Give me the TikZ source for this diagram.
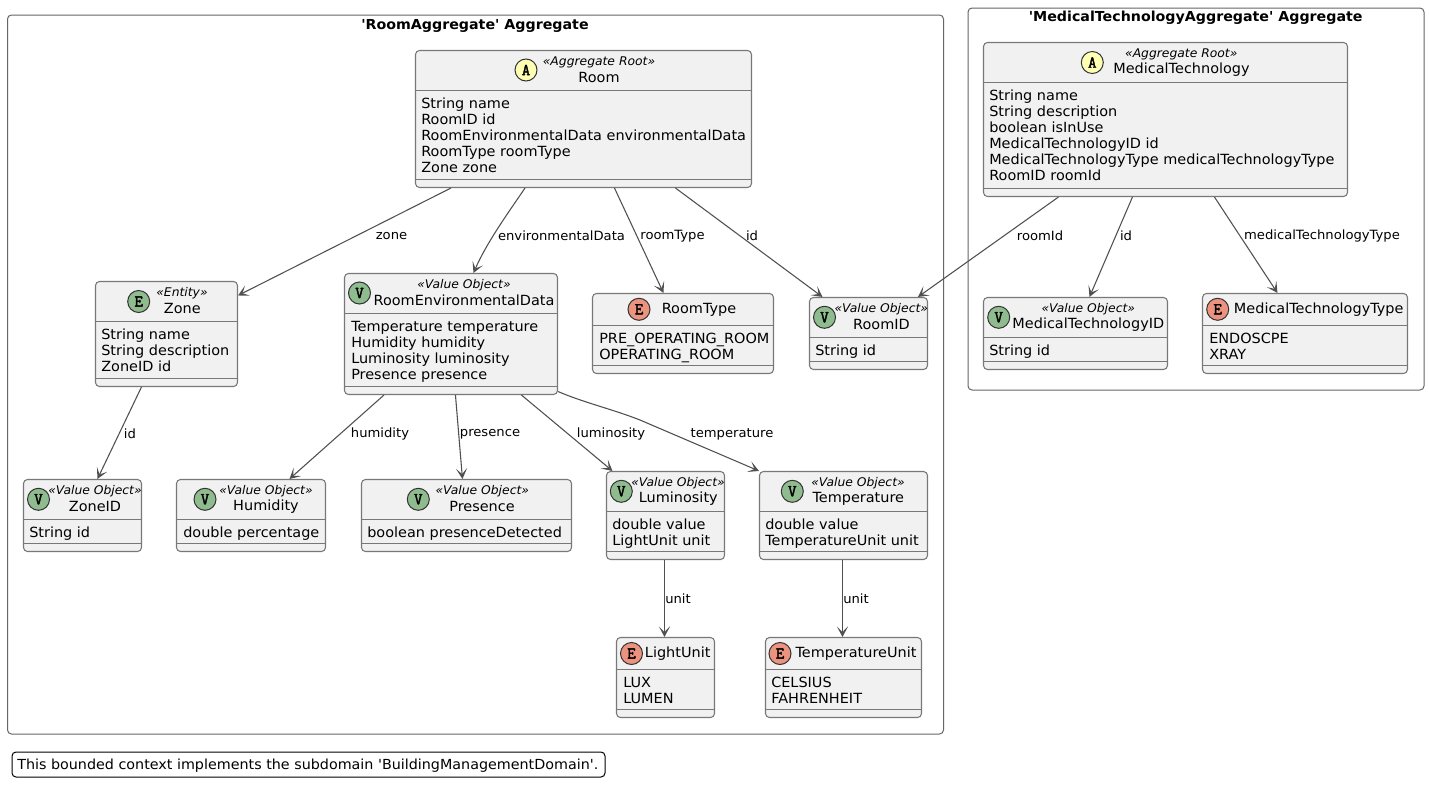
\documentclass[tikz,border=0pt]{standalone}
\usepackage{fontspec}
\setmainfont{DejaVu Sans}[Ligatures=TeXOff,FakeStretch=1.032]
\newfontfamily\letterfont{Latin Modern Mono}[FakeBold=2.2]
\usetikzlibrary{arrows.meta}
\definecolor{boxfill}{HTML}{F1F1F1}
\definecolor{edgecol}{HTML}{505050}
\definecolor{linecol}{HTML}{787878}
\definecolor{aroot}{HTML}{FEFFB3}
\definecolor{vobj}{HTML}{8FBC8F}
\definecolor{enum}{HTML}{EB937F}
\tikzset{
  frame/.style={draw=linecol!85!black,line width=.75pt,rounded corners=3pt,fill=white,inner sep=0pt},
  box/.style={draw=linecol,line width=.8pt,rounded corners=3pt,fill=boxfill,inner sep=0pt},
  divider/.style={draw=linecol,line width=.8pt},
  headcircle/.style={circle,draw=black!80,line width=.75pt,minimum size=16.5pt,inner sep=0pt,font=\letterfont\fontsize{12.5}{12}\selectfont},
  stereo/.style={inner sep=0pt,font=\itshape\fontsize{8.97}{11}\selectfont},
  cname/.style={inner sep=0pt,font=\fontsize{10.5}{12}\selectfont},
  notetext/.style={inner sep=0pt,font=\fontsize{10.4}{12}\selectfont},
  attrs/.style={inner sep=0pt,anchor=north west,align=left,font=\fontsize{10.5}{12.12}\selectfont},
  title/.style={inner sep=0pt,font=\bfseries\fontsize{10.33}{12}\selectfont},
  elabel/.style={inner sep=0pt,font=\fontsize{9.56}{12}\selectfont},
  conn/.style={draw=edgecol,line width=.8pt,-{Stealth[length=8pt,width=8.5pt,inset=4.3pt,line width=0pt]}},
}
% id, x0,y0,x1,y1, sep1, sep2
\newcommand\cls[7]{%
  \node[box,minimum width={(#4-#2)*.75pt},minimum height={(#5-#3)*.75pt}] (#1) at ({(#2+#4)/2},{(#3+#5)/2}) {};
  \draw[divider] (#2,#6) -- (#4,#6);
  \draw[divider] (#2,#7) -- (#4,#7);
}
% id, letter, colour, cx, cy
\newcommand\hd[5]{\node[headcircle,fill=#3] (#1-c) at (#4,#5) {#2};}
\newcommand\st[4]{\node[stereo] (#1-s) at (#2,#3+1) {«#4»};}
\newcommand\nm[4]{\node[cname] (#1-n) at (#2,#3) {#4};}
\newcommand\att[4]{\node[attrs] (#1-a) at (#2,#3+6) {\strut #4};}
\newcommand\pp[3]{([shift={(#2,#3)}]#1)}
\begin{document}
\begin{tikzpicture}[x=.75pt,y=-.75pt]
\useasboundingbox[fill=white] (0,0) rectangle (1429,796);

\node[frame,minimum width={936*.75pt},minimum height={719*.75pt}] (roomagg) at (475.5,374.5) {};
\node[title] (roomagg-t) at (475,26) {'RoomAggregate' Aggregate};
\node[frame,minimum width={456*.75pt},minimum height={382*.75pt}] (medagg) at (1196,199) {};
\node[title] (medagg-t) at (1195.7,18) {'MedicalTechnologyAggregate' Aggregate};

% Room
\cls{room}{415.5}{50.5}{751.5}{187.5}{90.5}{179.5}
\hd{room}{A}{aroot}{526}{70}
\st{room}{599}{61.5}{Aggregate Root}
\nm{room}{599}{77.5}{Room}
\att{room}{421}{90.5}{String name\\RoomID id\\RoomEnvironmentalData environmentalData\\RoomType roomType\\Zone zone}

% MedicalTechnology
\cls{med}{983.5}{42.5}{1347.5}{196.5}{82.5}{188.5}
\hd{med}{A}{aroot}{1092.3}{62.5}
\st{med}{1181.3}{53.5}{Aggregate Root}
\nm{med}{1181.5}{69.5}{MedicalTechnology}
\att{med}{989}{82.5}{String name\\String description\\boolean isInUse\\MedicalTechnologyID id\\MedicalTechnologyType medicalTechnologyType\\RoomID roomId}

% Zone
\cls{zone}{95.5}{281.5}{237.5}{386.5}{321.5}{378.5}
\hd{zone}{E}{vobj}{138.7}{301.5}
\st{zone}{182}{292.5}{Entity}
\nm{zone}{182.3}{308.5}{Zone}
\att{zone}{101}{321.5}{String name\\String description\\ZoneID id}

% RoomEnvironmentalData
\cls{red}{344.5}{273.5}{557.5}{394.5}{313.5}{386.5}
\hd{red}{V}{vobj}{359.5}{293}
\st{red}{464}{284.5}{Value Object}
\nm{red}{464}{300.5}{RoomEnvironmentalData}
\att{red}{351}{313.5}{Temperature temperature\\Humidity humidity\\Luminosity luminosity\\Presence presence}

% RoomType
\cls{rtype}{592.5}{293.5}{773.5}{373.5}{325.5}{365.5}
\hd{rtype}{E}{enum}{639}{309.3}
\nm{rtype}{699}{309.5}{RoomType}
\att{rtype}{599}{325.5}{PRE\_OPERATING\_ROOM\\OPERATING\_ROOM}

% RoomID
\cls{rid}{809.5}{297.5}{927.5}{369.5}{337.5}{361.5}
\hd{rid}{V}{vobj}{824.5}{317.3}
\st{rid}{881.3}{308.5}{Value Object}
\nm{rid}{881.5}{324.5}{RoomID}
\att{rid}{815}{337.5}{String id}

% MedicalTechnologyID
\cls{mid}{983.5}{297.5}{1167.5}{369.5}{337.5}{361.5}
\hd{mid}{V}{vobj}{998.7}{317.3}
\st{mid}{1088.3}{308.5}{Value Object}
\nm{mid}{1088.3}{324.5}{MedicalTechnologyID}
\att{mid}{989}{337.5}{String id}

% MedicalTechnologyType
\cls{mtype}{1202.5}{293.5}{1407.5}{373.5}{325.5}{365.5}
\hd{mtype}{E}{enum}{1217.7}{309.3}
\nm{mtype}{1318.7}{309.5}{MedicalTechnologyType}
\att{mtype}{1209}{325.5}{ENDOSCPE\\XRAY}

% ZoneID
\cls{zid}{23.5}{479.5}{141.5}{551.5}{519.5}{543.5}
\hd{zid}{V}{vobj}{38.5}{499.3}
\st{zid}{95}{490.5}{Value Object}
\nm{zid}{95}{506.5}{ZoneID}
\att{zid}{29}{519.5}{String id}

% Humidity
\cls{hum}{176.5}{479.5}{325.5}{551.5}{519.5}{543.5}
\hd{hum}{V}{vobj}{205}{499.3}
\st{hum}{266}{490.5}{Value Object}
\nm{hum}{266}{506.5}{Humidity}
\att{hum}{183}{519.5}{double percentage}

% Presence
\cls{pres}{361.5}{479.5}{571.5}{551.5}{519.5}{543.5}
\hd{pres}{V}{vobj}{418.3}{499.3}
\st{pres}{482.3}{490.5}{Value Object}
\nm{pres}{482}{506.5}{Presence}
\att{pres}{367}{519.5}{boolean presenceDetected}

% Luminosity
\cls{lum}{606.5}{471.5}{724.5}{559.5}{511.5}{551.5}
\hd{lum}{V}{vobj}{621.3}{491.3}
\st{lum}{678}{482.5}{Value Object}
\nm{lum}{678.3}{498.5}{Luminosity}
\att{lum}{612}{511.5}{double value\\LightUnit unit}

% Temperature
\cls{temp}{759.5}{471.5}{927.5}{559.5}{511.5}{551.5}
\hd{temp}{V}{vobj}{792.3}{491.3}
\st{temp}{858}{482.5}{Value Object}
\nm{temp}{858.3}{498.5}{Temperature}
\att{temp}{765}{511.5}{double value\\TemperatureUnit unit}

% LightUnit
\cls{lu}{616.5}{637.5}{714.5}{717.5}{669.5}{709.5}
\hd{lu}{E}{enum}{631.5}{653.5}
\nm{lu}{677.7}{653.5}{LightUnit}
\att{lu}{623}{669.5}{LUX\\LUMEN}

% TemperatureUnit
\cls{tu}{765.5}{637.5}{921.5}{717.5}{669.5}{709.5}
\hd{tu}{E}{enum}{780}{653.5}
\nm{tu}{856}{653.5}{TemperatureUnit}
\att{tu}{771}{669.5}{CELSIUS\\FAHRENHEIT}

% connectors
\draw[conn] \pp{room.south west}{36}{0} -- \pp{zone.north east}{0}{14.5};
\node[elabel] (l-zone) at (391.5,236) {zone};
\draw[conn] \pp{room.south west}{110}{0} .. controls (511,209) and (488,240) .. \pp{red.north west}{129.5}{0};
\node[elabel] (l-env) at (561.5,236) {environmentalData};
\draw[conn] \pp{room.south west}{199.5}{0} -- \pp{rtype.north west}{71.5}{0};
\node[elabel] (l-rtype) at (672.5,236) {roomType};
\draw[conn] \pp{room.south west}{260.5}{0} -- \pp{rid.north west}{13.5}{0};
\node[elabel] (l-id1) at (752,236) {id};
\draw[conn] \pp{med.south west}{75.5}{0} -- \pp{rid.north west}{109}{0};
\node[elabel] (l-rid) at (1040,236) {roomId};
\draw[conn] \pp{med.south west}{149.5}{0} -- \pp{mid.north west}{106.5}{0};
\node[elabel] (l-id2) at (1126,236) {id};
\draw[conn] \pp{med.south west}{231.5}{0} -- \pp{mtype.north west}{75.5}{0};
\node[elabel] (l-mtt) at (1322,236) {medicalTechnologyType};
\draw[conn] \pp{zone.south west}{46.5}{0} -- \pp{zid.north west}{74.5}{0};
\node[elabel] (l-id3) at (130,434) {id};
\draw[conn] \pp{red.south west}{40}{0} -- \pp{hum.north west}{113.5}{0};
\node[elabel] (l-hum) at (380,434) {humidity};
\draw[conn] \pp{red.south west}{111.5}{0} -- \pp{pres.north west}{101.5}{0};
\node[elabel] (l-pres) at (490,434) {presence};
\draw[conn] \pp{red.south west}{177.5}{0} -- \pp{lum.north west}{6.5}{0};
\node[elabel] (l-lum) at (611,434) {luminosity};
\draw[conn] \pp{red.south east}{0}{-3.5} .. controls (585,403) and (612,409) .. (640,420) -- \pp{temp.north west}{0}{0};
\node[elabel] (l-temp) at (732,434) {temperature};
\draw[conn] \pp{lum.south west}{58.5}{0} -- \pp{lu.north west}{48.5}{0};
\node[elabel] (l-u1) at (678,599) {unit};
\draw[conn] \pp{temp.south west}{83.5}{0} -- \pp{tu.north west}{77.5}{0};
\node[elabel] (l-u2) at (856,599) {unit};

% note
\node[draw=black,line width=.75pt,rounded corners=3pt,fill=white,inner sep=0pt,minimum width={593*.75pt},minimum height={25*.75pt}] (note) at (308.5,764.5) {};
\node[notetext,anchor=west] (note-t) at (17,765.5) {This bounded context implements the subdomain 'BuildingManagementDomain'.};
\end{tikzpicture}
\end{document}
